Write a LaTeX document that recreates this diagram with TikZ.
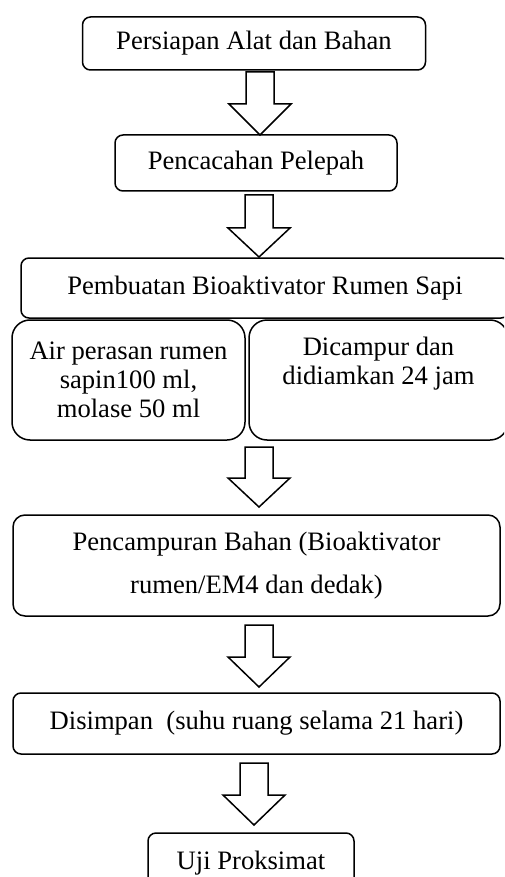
\documentclass[tikz,border=0pt]{standalone}
\usepackage{fontspec}
\setmainfont{Liberation Serif}
\usetikzlibrary{calc}
\tikzset{
  box/.style={draw, line width=0.75pt, rounded corners=4pt, inner sep=0pt, align=center,
    font=\fontsize{13.3}{14.5}\selectfont},
  subbox/.style={box, rounded corners=9pt},
  bigbox/.style={box, rounded corners=6pt, font=\fontsize{13.3}{21.5}\selectfont},
  barrow/.style={draw, line width=0.75pt, fill=white, line join=miter}
}
\newcommand{\blockarrow}[5]{% cx, top, shaft bottom, tip, name
  \draw[barrow] (#1-14,#2) -- (#1+14,#2) -- (#1+14,#3) -- (#1+31,#3) -- (#1,#4) -- (#1-31,#3) -- (#1-14,#3) -- cycle;
}
\begin{document}
\begin{tikzpicture}[x=0.5pt,y=-0.5pt]
\useasboundingbox (0,0) rectangle (504,877);
\clip (0,0) rectangle (504,877);
\node[box, minimum width=171.5pt, minimum height=26.5pt] (b1) at (254,43.5) {Persiapan Alat dan Bahan};
\node[box, minimum width=141pt, minimum height=28pt] (b2) at (256,163) {Pencacahan Pelepah};
\node[box, minimum width=244pt, minimum height=30pt] (b3) at (265,288) {Pembuatan Bioaktivator Rumen Sapi};
\node[subbox, minimum width=116.5pt, minimum height=60pt] (b4) at (128.5,380) {Air perasan rumen\\sapin100 ml,\\molase 50 ml};
\node[subbox, minimum width=129.5pt, minimum height=60pt] (b5) at (378.5,380) {Dicampur dan\\didiamkan 24 jam\\\strut};
\node[bigbox, minimum width=243.5pt, minimum height=50.5pt] (b6) at (256.5,565.5) {Pencampuran Bahan (Bioaktivator\\rumen/EM4 dan dedak)};
\node[box, minimum width=243.5pt, minimum height=30.5pt] (b7) at (256.5,723.5) {Disimpan\ \ (suhu ruang selama 21 hari)};
\node[box, minimum width=103pt, minimum height=30pt] (b8) at (251,863) {Uji Proksimat};
\blockarrow{260}{72}{104}{135}{a1}
\blockarrow{259}{195}{228}{257}{a2}
\blockarrow{259}{447}{478}{507}{a3}
\blockarrow{259}{625}{657}{687}{a4}
\blockarrow{254}{763}{795}{825}{a5}
\end{tikzpicture}
\end{document}
